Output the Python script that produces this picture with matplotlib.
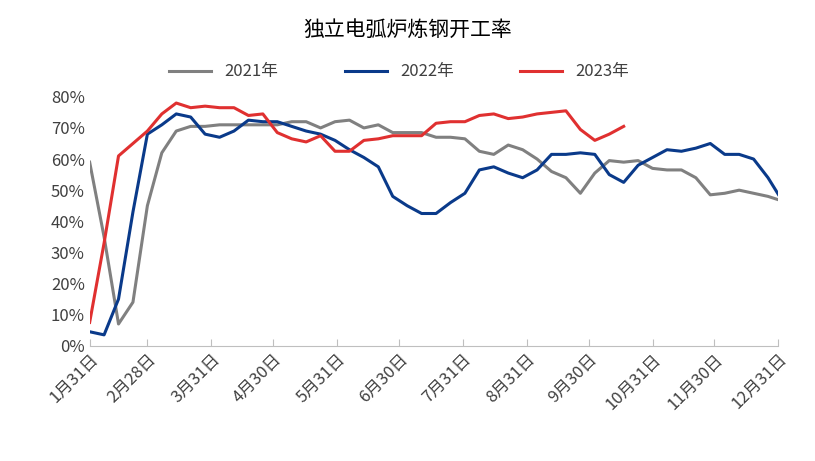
import matplotlib
matplotlib.use("Agg")
import matplotlib.pyplot as plt
import numpy as np

plt.rcParams['font.family'] = ['Noto Sans CJK JP', 'Noto Sans CJK SC', 'Noto Sans CJK TC', 'Noto Sans CJK KR', 'DejaVu Sans']

tick_labels = ["1月31日","2月28日","3月31日","4月30日","5月31日","6月30日","7月31日","8月31日","9月30日","10月31日","11月30日","12月31日"]
tick_days = [0,28,59,89,120,150,181,212,242,273,303,334]

s2021 = [59,35,7,14,45,62,69,70.5,70.5,71,71,71,71,71,72,72,70,72,72.5,70,71,68.5,68.5,68.5,67,67,66.5,62.5,61.5,64.5,63,60,56,54,49,55.5,59.5,59,59.5,57,56.5,56.5,54,48.5,49,50,49,48,46.5]
s2022 = [4.5,3.5,15,43,68,71,74.5,73.5,68,67,69,72.5,72,72,70.5,69,68,66,63,60.5,57.5,48,45,42.5,42.5,46,49,56.5,57.5,55.5,54,56.5,61.5,61.5,62,61.5,55,52.5,58,60.5,63,62.5,63.5,65,61.5,61.5,60,54,46.5]
s2023 = [7.5,33,61,65,69,74.5,78,76.5,77,76.5,76.5,74,74.5,68.5,66.5,65.5,67.5,62.5,62.5,66,66.5,67.5,67.5,67.5,71.5,72,72,74,74.5,73,73.5,74.5,75,75.5,69.5,66,68,70.5]

fig = plt.figure(figsize=(8.15,4.61), dpi=100)
ax = fig.add_axes([0.11, 0.25, 0.845, 0.54])
for s, c, l in [(s2021,'#808080','2021年'),(s2022,'#0a3a8a','2022年'),(s2023,'#e03030','2023年')]:
    d = np.arange(len(s))*7
    ax.plot(d, s, color=c, lw=2.2, label=l)
ax.set_xlim(0,334)
ax.set_ylim(0,80)
ax.set_yticks(range(0,81,10))
ax.set_yticklabels([f"{v}%" for v in range(0,81,10)], fontsize=12, color='#404040')
ax.set_xticks(tick_days)
ax.set_xticklabels(tick_labels, rotation=45, ha='right', rotation_mode='anchor', fontsize=12, color='#404040')
for sp in ['top','right','left']:
    ax.spines[sp].set_visible(False)
ax.spines['bottom'].set_color('#bfbfbf')
ax.tick_params(axis='y', length=0)
ax.tick_params(axis='x', direction='in', length=5, color='#bfbfbf')
fig.suptitle('独立电弧炉炼钢开工率', y=0.96, fontsize=15)
leg = fig.legend(loc='upper center', bbox_to_anchor=(0.49,0.895), ncol=3, frameon=False, fontsize=12, handlelength=2.5, columnspacing=4)
for t in leg.get_texts():
    t.set_color('#404040')
fig.savefig('out.png')
